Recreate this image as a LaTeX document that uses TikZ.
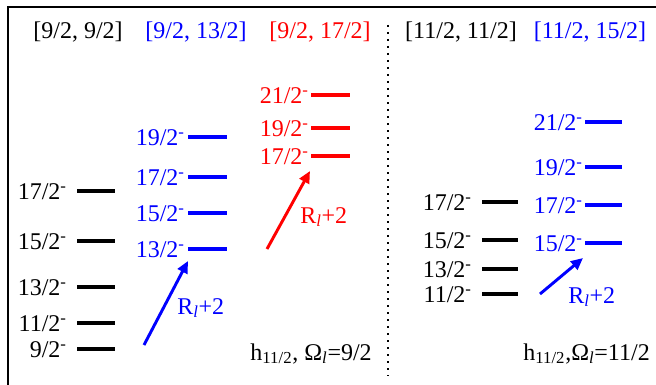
\documentclass[tikz,border=0pt]{standalone}
\usepackage{fontspec}
\setmainfont{Liberation Serif}
\newfontfamily\timesfont{Liberation Serif}
\usetikzlibrary{arrows.meta}
\definecolor{bandR}{HTML}{FF0000}
\definecolor{bandB}{HTML}{0000FF}

\begin{document}
\begin{tikzpicture}[x=0.75pt, y=-0.75pt, font=\timesfont\fontsize{18}{20}\selectfont,
  lvl/.style={line width=2.3pt},
  spin/.style={anchor=base east, inner sep=0pt},
  hdr/.style={anchor=base, inner sep=0pt},
  rot/.style={-{Triangle[length=9pt, width=8pt]}, line width=2.2pt}]
  \useasboundingbox (0,0) rectangle (656,385);

  % frame, cut off at right and bottom
  \draw[line width=1.6pt] (8,385) -- (8,7) -- (656,7);
  % dotted divider between the two Omega cases
  \draw[line width=1.6pt, dash pattern=on 1.6pt off 3.65pt] (388,25) -- (388,376);

  % band headers
  \node[hdr] (hA) at (78,39) {[9/2, 9/2]};
  \node[hdr, text=bandB] (hB) at (196,39) {[9/2, 13/2]};
  \node[hdr, text=bandR] (hC) at (320,39) {[9/2, 17/2]};
  \node[hdr] (hD) at (461,39) {[11/2, 11/2]};
  \node[hdr, text=bandB] (hE) at (590,39) {[11/2, 15/2]};

  % Omega = 9/2 : ground band
  \foreach \y/\j in {191/17,241/15,287/13,323/11,349/9}{
    \draw[lvl] (77,\y) -- (115,\y);
    \node[spin] (a\j) at (67,\y+8.6) {\j/2\textsuperscript{-}};
  }
  % Omega = 9/2 : R_l = 13/2
  \foreach \y/\j in {137/19,177/17,213/15,249/13}{
    \draw[lvl, bandB] (188,\y) -- (227,\y);
    \node[spin, text=bandB] (b\j) at (185,\y+8.6) {\j/2\textsuperscript{-}};
  }
  % Omega = 9/2 : R_l = 17/2
  \foreach \y/\j in {95/21,128/19,156/17}{
    \draw[lvl, bandR] (311,\y) -- (350,\y);
    \node[spin, text=bandR] (c\j) at (309,\y+8.6) {\j/2\textsuperscript{-}};
  }
  % Omega = 11/2 : ground band
  \foreach \y/\j in {202/17,240/15,269/13,294/11}{
    \draw[lvl] (482,\y) -- (518,\y);
    \node[spin] (d\j) at (472,\y+8.6) {\j/2\textsuperscript{-}};
  }
  % Omega = 11/2 : R_l = 15/2
  \foreach \y/\j in {122/21,167/19,205/17,243/15}{
    \draw[lvl, bandB] (585,\y) -- (622,\y);
    \node[spin, text=bandB] (e\j) at (583,\y+8.6) {\j/2\textsuperscript{-}};
  }

  % R_l+2 steps
  \coordinate (bfrom) at (144,345);
  \coordinate (bto) at (188,261);
  \draw[rot, bandB] (bfrom) -- (bto);
  \node[anchor=base west, inner sep=0pt, text=bandB] (rb) at (177,314)
    {R\textsubscript{\textit{l}}+2};

  \coordinate (cfrom) at (267,249);
  \coordinate (cto) at (310,171);
  \draw[rot, bandR] (cfrom) -- (cto);
  \node[anchor=base west, inner sep=0pt, text=bandR] (rc) at (300,223)
    {R\textsubscript{\textit{l}}+2};

  \coordinate (efrom) at (540,294);
  \coordinate (eto) at (583,258);
  \draw[rot, bandB] (efrom) -- (eto);
  \node[anchor=base west, inner sep=0pt, text=bandB] (re) at (568,303)
    {R\textsubscript{\textit{l}}+2};

  % orbital labels
  \node[anchor=base east, inner sep=0pt] (oA) at (372,360)
    {h\textsubscript{11/2}, Ω\textsubscript{\textit{l}}=9/2};
  \node[anchor=base east, inner sep=0pt] (oB) at (650,360)
    {h\textsubscript{11/2},Ω\textsubscript{\textit{l}}=11/2};
\end{tikzpicture}
\end{document}
